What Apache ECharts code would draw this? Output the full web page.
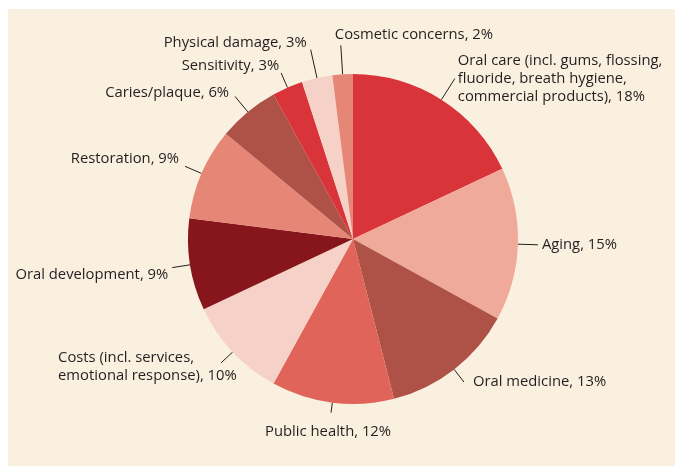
<!DOCTYPE html>
<html>
<head>
<meta charset="utf-8">
<script src="https://cdn.jsdelivr.net/npm/echarts@6/dist/echarts.min.js"></script>
<style>
  html, body { margin: 0; padding: 0; background: #ffffff; }
  #panel { position: absolute; left: 8px; top: 9px; width: 667px; height: 457px; background: #faf0df; }
  #chart { position: absolute; left: 0; top: 0; width: 675px; height: 466px; }
</style>
</head>
<body>
<div id="panel"></div>
<div id="chart"></div>
<script>
const categories = [
  "Oral care (incl. gums, flossing,\nfluoride, breath hygiene,\ncommercial products)",
  "Aging",
  "Oral medicine",
  "Public health",
  "Costs (incl. services,\nemotional response)",
  "Oral development",
  "Restoration",
  "Caries/plaque",
  "Sensitivity",
  "Physical damage",
  "Cosmetic concerns"
];
const shares = [18, 15, 13, 12, 10, 9, 9, 6, 3, 3, 2];

const colors = [
  "#d9343a", "#f0aa99", "#ae5248", "#e06459", "#f6d1c8",
  "#86161c", "#e68677", "#ae5248", "#d9343a", "#f6d1c8", "#e68677"
];
// leader line length per slice, and label nudges
const lineLen = [25, 20, 16, 10, 16, 18, 18, 20, 16, 29, 29];
const labelTweak = [
  { dx: -2, dy: 0 },
  { dx: -1, dy: 0 },
  { dx: 4, dy: 0 },
  { dx: -3, dy: 19, align: "center" },
  { dx: -163, dy: 4, align: "left" },
  { dx: 1, dy: 7 },
  { dx: -1, dy: -8 },
  { dx: -1, dy: -4 },
  { dx: 3, dy: -7 },
  { dx: 1, dy: -7 },
  { dx: 0, dy: -11, align: "left", offX: -6 }
];

const chart = echarts.init(document.getElementById("chart"), null, { renderer: "canvas" });

const data = categories.map((name, i) => ({
  name,
  value: shares[i],
  itemStyle: { color: colors[i] },
  labelLine: { length: lineLen[i], length2: 0 }
}));

chart.setOption({
  backgroundColor: "transparent",
  series: [
    {
      type: "pie",
      center: [353, 239],
      radius: 165,
      startAngle: 90,
      clockwise: true,
      avoidLabelOverlap: false,
      animation: false,
      data,
      itemStyle: { borderWidth: 0 },
      label: {
        show: true,
        formatter: (p) => `${p.name}, ${p.value}%`,
        color: "#231f20",
        fontFamily: "Open Sans",
        fontSize: 14.8,
        lineHeight: 18
      },
      labelLine: {
        show: true,
        lineStyle: { color: "#231f20", width: 1 }
      },
      labelLayout(params) {
        const t = labelTweak[params.dataIndex];
        const pts = params.labelLinePoints;
        const end = pts[pts.length - 1];
        const r = params.labelRect;
        let x = params.align === "left" ? r.x : params.align === "right" ? r.x + r.width : r.x + r.width / 2;
        let y = r.y + r.height / 2;
        const out = {
          labelLinePoints: pts,
          x: x + t.dx,
          y: y + t.dy,
          align: params.align,
          verticalAlign: "middle"
        };
        if (t.align === "center") {
          out.align = "center";
          out.x = end[0] + t.dx;
        }
        if (t.align === "left") {
          out.align = "left";
          out.x = end[0] + t.dx + (t.offX || 0);
        }
        return out;
      }
    }
  ]
});
</script>
</body>
</html>
